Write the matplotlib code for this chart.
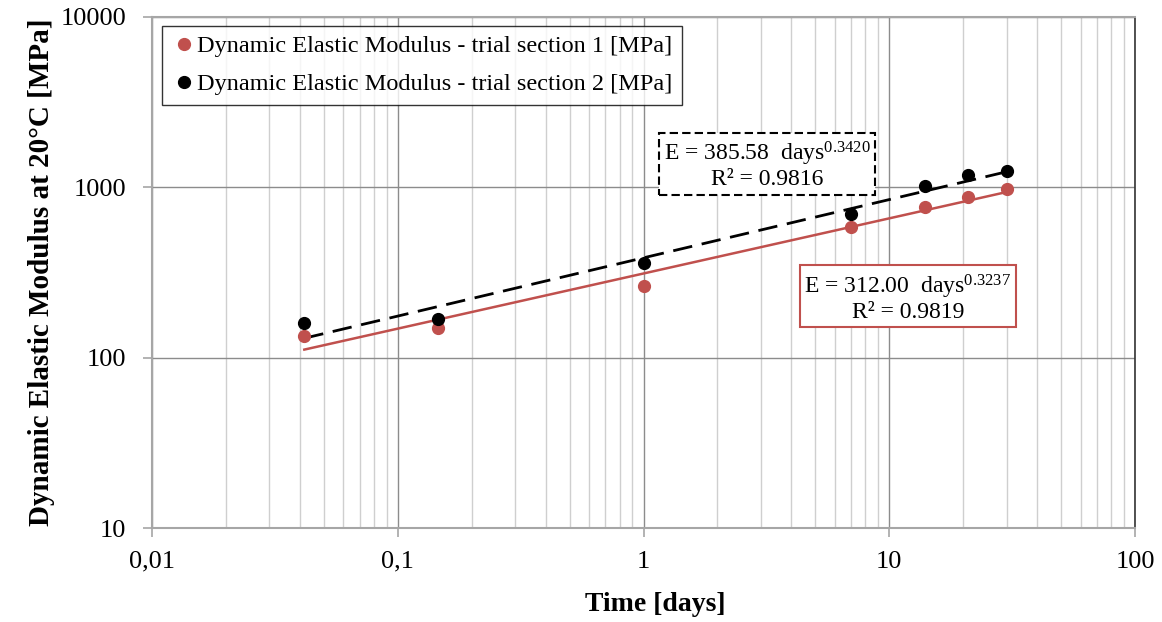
import matplotlib
matplotlib.use('Agg')
import matplotlib.pyplot as plt
import numpy as np
from matplotlib.ticker import FixedLocator, FixedFormatter, LogLocator, NullFormatter

plt.rcParams['font.family'] = ['Liberation Serif', 'DejaVu Serif']
plt.rcParams['mathtext.default'] = 'regular'

# data
days = [1 / 24, 3.5 / 24, 1, 7, 14, 21, 30]
e_sec1 = [134, 150, 265, 583, 770, 881, 975]
e_sec2 = [159, 169, 358, 695, 1023, 1183, 1254]

# power law fits shown in the boxes
fit1 = (312.00, 0.3237, 0.9819)
fit2 = (385.58, 0.3420, 0.9816)

x_ticks = [0.01, 0.1, 1, 10, 100]
x_labels = ['0,01', '0,1', '1', '10', '100']
y_ticks = [10, 100, 1000, 10000]
y_labels = ['10', '100', '1000', '10000']

red = '#c0504d'
grey = '#a6a6a6'

fig = plt.figure(figsize=(11.62, 6.22), dpi=100)
ax = fig.add_axes([0.1308, 0.1511, 0.8460, 0.8216])
ax.set_xscale('log')
ax.set_yscale('log')
ax.set_xlim(0.01, 100)
ax.set_ylim(10, 10000)

# grid: major both ways, minor only vertical
ax.xaxis.set_minor_locator(LogLocator(base=10, subs=np.arange(2, 10)))
ax.xaxis.set_minor_formatter(NullFormatter())
ax.yaxis.set_minor_locator(FixedLocator([]))
ax.grid(True, which='major', color='#8c8c8c', linewidth=1.0)
ax.grid(True, which='minor', axis='x', color='#cfcfcf', linewidth=1.0)
ax.set_axisbelow(True)

# trendlines
xt = np.logspace(np.log10(days[0]), np.log10(days[-1]), 50)
ax.plot(xt, fit1[0] * xt ** fit1[1], color=red, lw=1.8, zorder=3)
ax.plot(xt, fit2[0] * xt ** fit2[1], color='black', lw=2.0,
        dashes=(7, 3.5), zorder=3)

ax.plot(days, e_sec1, 'o', color=red, ms=8.5, zorder=4,
        label='Dynamic Elastic Modulus - trial section 1 [MPa]')
ax.plot(days, e_sec2, 'o', color='black', ms=8.5, zorder=4,
        label='Dynamic Elastic Modulus - trial section 2 [MPa]')

ax.xaxis.set_major_locator(FixedLocator(x_ticks))
ax.xaxis.set_major_formatter(FixedFormatter(x_labels))
ax.yaxis.set_major_locator(FixedLocator(y_ticks))
ax.yaxis.set_major_formatter(FixedFormatter(y_labels))
ax.tick_params(axis='both', which='major', labelsize=19, length=6.5,
               color=grey, width=1.2)
ax.tick_params(axis='y', which='major', pad=12)
ax.tick_params(axis='x', which='major', pad=10)
ax.tick_params(axis='x', which='minor', length=0)

for s in ['left', 'bottom', 'top']:
    ax.spines[s].set_color(grey)
    ax.spines[s].set_linewidth(1.5)
ax.spines['right'].set_color('#333333')
ax.spines['right'].set_linewidth(1.2)

ax.set_xlabel('Time [days]', fontsize=20, fontweight='bold')
ax.xaxis.set_label_coords(0.512, -0.125)
ax.set_ylabel('Dynamic Elastic Modulus at 20°C [MPa]', fontsize=21,
              fontweight='bold', labelpad=4)

leg = ax.legend(loc='upper left', bbox_to_anchor=(0.01, 0.983), fontsize=17.5,
                frameon=True, fancybox=False, handletextpad=0.05,
                handlelength=1.0, borderpad=0.4, labelspacing=0.65,
                borderaxespad=0.0)
leg.get_frame().set_edgecolor('black')
leg.get_frame().set_linewidth(1.0)

# equation boxes
ax.text(3.18, 1352,
        'E = %.2f  days$^{%.4f}$\nR² = %.4f' % fit2,
        fontsize=17, ha='center', va='center', linespacing=1.05,
        bbox=dict(boxstyle='square,pad=0.2', facecolor='white',
                  edgecolor='black', linestyle=(0, (4, 2)), linewidth=1.5))
ax.text(11.9, 225,
        'E = %.2f  days$^{%.4f}$\nR² = %.4f' % fit1,
        fontsize=17, ha='center', va='center', linespacing=1.05,
        bbox=dict(boxstyle='square,pad=0.2', facecolor='white',
                  edgecolor=red, linewidth=1.5))

fig.savefig('out.png', dpi=100)
